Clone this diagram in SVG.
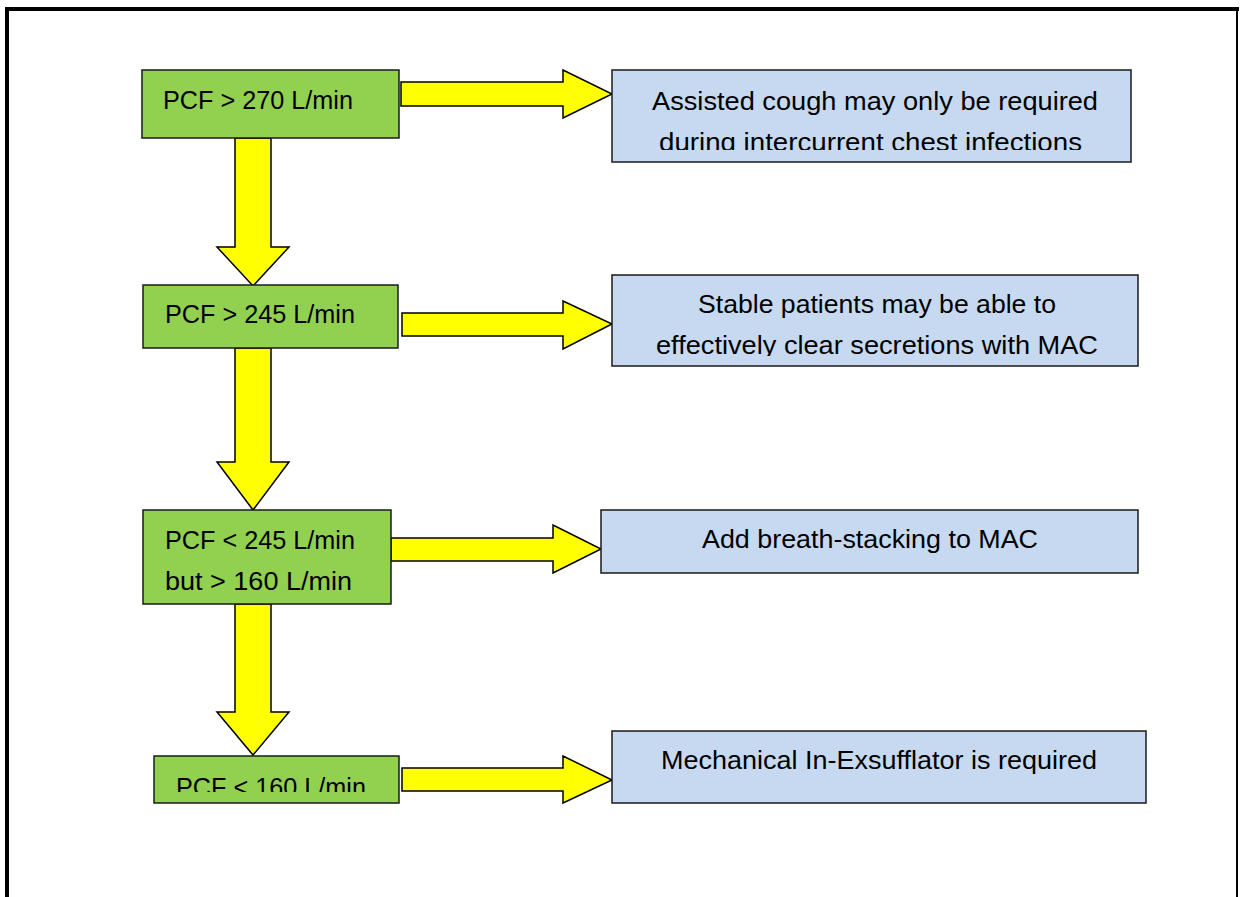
<svg xmlns="http://www.w3.org/2000/svg" width="1240" height="897" viewBox="0 0 1240 897">
<style>
.g{fill:#92D050;stroke:#1a1a1a;stroke-width:1.5}
.b{fill:#C6D9F1;stroke:#1a1a1a;stroke-width:1.5}
.ar{fill:#FFFF00;stroke:#000;stroke-width:1.5;stroke-linejoin:miter}
text{font-family:"Liberation Sans",Arial,sans-serif;font-size:26px;fill:#000}
.c{text-anchor:middle}
</style>
<defs>
<clipPath id="c1"><rect x="600" y="60" width="560" height="90"/></clipPath>
<clipPath id="c2"><rect x="600" y="265" width="560" height="91"/></clipPath>
<clipPath id="c4"><rect x="140" y="740" width="280" height="52"/></clipPath>
</defs>
<rect width="1240" height="897" fill="#fff"/>
<g id="frame" fill="none" stroke="#000">
<line x1="7" y1="7" x2="7" y2="897" stroke-width="4"/>
<line x1="5" y1="9" x2="1239" y2="9" stroke-width="4"/>
<line x1="1237" y1="7" x2="1237" y2="897" stroke-width="2"/>
</g>
<g id="connectors">
<polygon class="ar" points="235,138 271,138 271,247 289,247 253,286 217,247 235,247"/>
<polygon class="ar" points="235,348 271,348 271,462 289,462 253,510 217,462 235,462"/>
<polygon class="ar" points="235,604 271,604 271,712 289,712 253,755 217,712 235,712"/>
<polygon class="ar" points="401,82 563,82 563,70 612,94 563,118 563,106 401,106"/>
<polygon class="ar" points="402,313 563,313 563,301 612,324 563,349 563,336 402,336"/>
<polygon class="ar" points="391,538 553,538 553,525 601,549 553,573 553,561 391,561"/>
<polygon class="ar" points="402,768 563,768 563,756 612,780 563,803 563,791 402,791"/>
</g>
<g id="n1">
<rect class="g" x="142" y="70" width="257" height="68"/>
<text x="163" y="109" textLength="190" lengthAdjust="spacingAndGlyphs">PCF &gt; 270 L/min</text>
</g>
<g id="n2">
<rect class="g" x="143" y="285" width="255" height="63"/>
<text x="165" y="323" textLength="190" lengthAdjust="spacingAndGlyphs">PCF &gt; 245 L/min</text>
</g>
<g id="n3">
<rect class="g" x="143" y="510" width="248" height="94"/>
<text x="165" y="549" textLength="190" lengthAdjust="spacingAndGlyphs">PCF &lt; 245 L/min</text>
<text x="165" y="590" textLength="187" lengthAdjust="spacingAndGlyphs">but &gt; 160 L/min</text>
</g>
<g id="n4">
<rect class="g" x="154" y="756" width="245" height="47"/>
<text x="176" y="796" textLength="190" lengthAdjust="spacingAndGlyphs" clip-path="url(#c4)">PCF &lt; 160 L/min</text>
</g>
<g id="r1">
<rect class="b" x="612" y="70" width="519" height="92"/>
<text x="652" y="110" textLength="446" lengthAdjust="spacingAndGlyphs">Assisted cough may only be required</text>
<text x="659" y="151" textLength="423" lengthAdjust="spacingAndGlyphs" clip-path="url(#c1)">during intercurrent chest infections</text>
</g>
<g id="r2">
<rect class="b" x="612" y="275" width="526" height="91"/>
<text x="698" y="313" textLength="358" lengthAdjust="spacingAndGlyphs">Stable patients may be able to</text>
<text x="656" y="354" textLength="442" lengthAdjust="spacingAndGlyphs" clip-path="url(#c2)">effectively clear secretions with MAC</text>
</g>
<g id="r3">
<rect class="b" x="601" y="510" width="537" height="63"/>
<text x="702" y="548" textLength="336" lengthAdjust="spacingAndGlyphs">Add breath-stacking to MAC</text>
</g>
<g id="r4">
<rect class="b" x="612" y="731" width="534" height="72"/>
<text x="661" y="769" textLength="436" lengthAdjust="spacingAndGlyphs">Mechanical In-Exsufflator is required</text>
</g>
</svg>
